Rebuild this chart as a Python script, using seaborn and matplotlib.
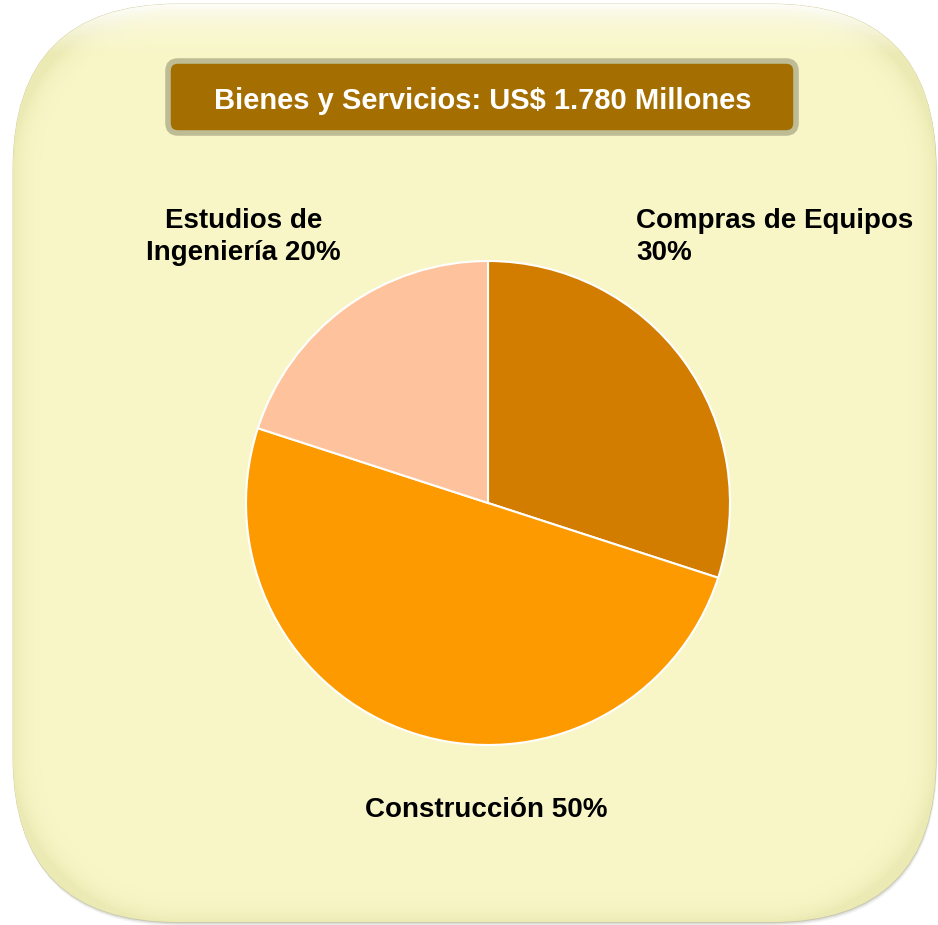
import matplotlib.pyplot as plt
from matplotlib.patches import FancyBboxPatch
import numpy as np
import seaborn as sns

# data
categories = ['Compras de Equipos', 'Construcción', 'Estudios de Ingeniería']
shares = [30, 50, 20]
label_texts = ['Compras de Equipos\n30%', 'Construcción 50%', 'Estudios de\nIngeniería 20%']
title = 'Bienes y Servicios: US$ 1.780 Millones'

sns.set_style('white')
plt.rcParams['font.family'] = ['Liberation Sans', 'DejaVu Sans']
plt.rcParams['text.color'] = 'black'

palette = sns.color_palette(['#D27C00', '#FD9A00', '#FEC39C'])

W, H = 938, 925
fig = plt.figure(figsize=(W / 100, H / 100), dpi=100)
ax = fig.add_axes([0, 0, 1, 1])

# card geometry (pixels, y up)
x0, x1 = 13, 936
y0, y1 = H - 922, H - 4
rad = 165

# soft drop shadow
for off, a in [(4, 0.08), (2.5, 0.12), (1.2, 0.2)]:
    ax.add_patch(FancyBboxPatch((x0 + rad + off * 0.3, y0 + rad - off), x1 - x0 - 2 * rad, y1 - y0 - 2 * rad,
                                boxstyle=f'round,pad={rad}', fc='#6a6a50', ec='none', alpha=a, zorder=0))
card = FancyBboxPatch((x0 + rad, y0 + rad), x1 - x0 - 2 * rad, y1 - y0 - 2 * rad,
                      boxstyle=f'round,pad={rad}', fc='#F9F7C8', ec='#cfcda0', lw=0.6, zorder=1)
ax.add_patch(card)

# edge shading: slightly darker rim, whitish highlight along the top
gx, gy = np.meshgrid(np.arange(0, W) + 0.5, np.arange(0, H) + 0.5)
cx, cy = (x0 + x1) / 2, (y0 + y1) / 2
qx = np.abs(gx - cx) - ((x1 - x0) / 2 - rad)
qy = np.abs(gy - cy) - ((y1 - y0) / 2 - rad)
dist = np.hypot(np.maximum(qx, 0), np.maximum(qy, 0)) + np.minimum(np.maximum(qx, qy), 0) - rad
depth = np.clip(-dist, 0, None)
base = np.array([0xF9, 0xF7, 0xC8]) / 255
rim = np.array([0xEC, 0xEA, 0xB4]) / 255
t = np.exp(-depth / 11.0)[..., None]
img = base * (1 - t) + rim * t
top = np.clip(1 - (y1 - gy) / 50.0, 0, 1)[..., None] * np.exp(-depth / 35.0)[..., None]
img = img * (1 - 0.95 * top) + 0.95 * top
im = ax.imshow(img, extent=(0, W, 0, H), origin='lower', zorder=1.5, interpolation='bilinear')
im.set_clip_path(card)

# title box
ax.add_patch(FancyBboxPatch((168 + 10, H - 133 + 10), 628 - 20, 72 - 20,
                            boxstyle='round,pad=10', fc='#A46F00', ec='#BDBC95', lw=4, zorder=2))
ax.text(483, H - 101, title, ha='center', va='center', color='white',
        fontsize=21, fontweight='bold', zorder=3)

# pie
wedges, _ = ax.pie(shares, colors=palette, startangle=90, counterclock=False,
                   center=(488, H - 503), radius=242, frame=True,
                   wedgeprops=dict(edgecolor='white', linewidth=1.5))
for w in wedges:
    w.set_zorder(2)

ax.set_xlim(0, W)
ax.set_ylim(0, H)
ax.set_aspect('equal')
ax.axis('off')

# labels
ax.text(636, H - 237, label_texts[0], ha='left', va='center', fontsize=20,
        fontweight='bold', linespacing=1.3, zorder=3)
ax.text(486, H - 810, label_texts[1], ha='center', va='center', fontsize=20,
        fontweight='bold', zorder=3)
ax.text(341, H - 237, label_texts[2], ha='right', va='center', fontsize=20,
        fontweight='bold', linespacing=1.3, multialignment='center', zorder=3)

fig.savefig('out.png', dpi=100)
